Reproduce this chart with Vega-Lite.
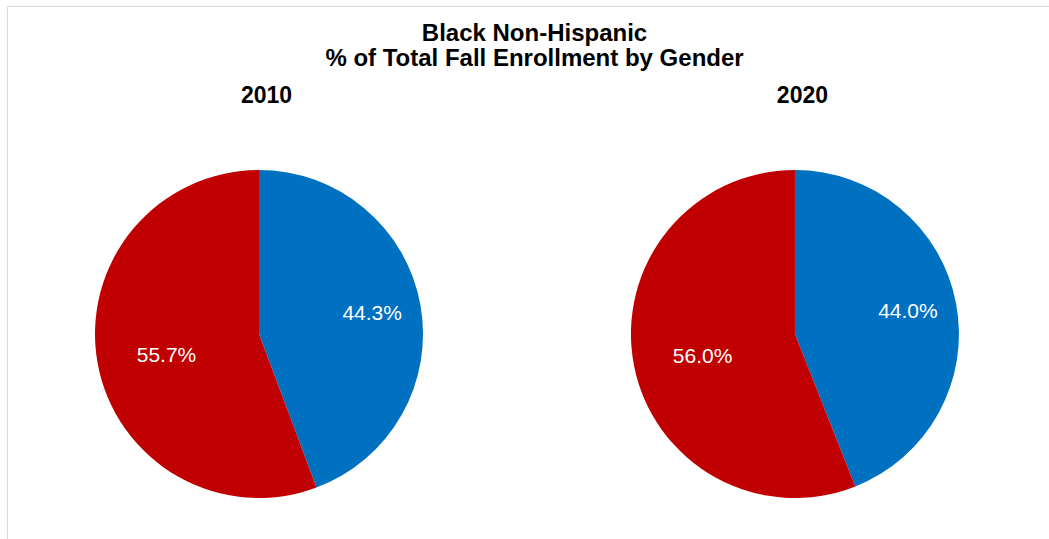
{
  "$schema": "https://vega.github.io/schema/vega-lite/v6.json",
  "width": 1049,
  "height": 539,
  "autosize": {"type": "fit", "contains": "padding"},
  "padding": {"left": 7, "top": 6, "right": -2, "bottom": -123},
  "background": "white",
  "config": {
    "view": {"stroke": "#d9d9d9", "strokeWidth": 1},
    "font": "Liberation Sans"
  },
  "data": {
    "values": [
      {"year": "2010", "gender": "Male", "pct": 0.443},
      {"year": "2010", "gender": "Female", "pct": 0.557},
      {"year": "2020", "gender": "Male", "pct": 0.440},
      {"year": "2020", "gender": "Female", "pct": 0.560}
    ]
  },
  "encoding": {
    "x": {
      "field": "year",
      "type": "nominal",
      "scale": {"type": "point", "padding": 0.474, "align": 0.496},
      "axis": {
        "orient": "top",
        "offset": -96,
        "title": ["Black Non-Hispanic", "% of Total Fall Enrollment by Gender"],
        "titleX": 527,
        "titleY": -62,
        "titleAlign": "center",
        "titleBaseline": "alphabetic",
        "titleAngle": 0,
        "titleFont": "Liberation Sans",
        "titleFontSize": 24,
        "titleFontWeight": "bold",
        "titleLineHeight": 25,
        "titleColor": "black",
        "ticks": false,
        "tickSize": 0,
        "domain": false,
        "grid": false,
        "labelPadding": 0,
        "labelBaseline": "alphabetic",
        "labelOffset": 7,
        "labelAngle": 0,
        "labelFont": "Liberation Sans",
        "labelFontSize": 23,
        "labelFontWeight": "bold",
        "labelColor": "black"
      }
    },
    "theta": {"field": "pct", "type": "quantitative", "stack": true},
    "order": {"field": "gender", "sort": "descending"},
    "color": {
      "field": "gender",
      "type": "nominal",
      "scale": {"domain": ["Male", "Female"], "range": ["#0070C0", "#C00000"]},
      "legend": null
    }
  },
  "layer": [
    {
      "transform": [{"filter": "datum.year == '2010'"}],
      "layer": [
        {"mark": {"type": "arc", "outerRadius": 164}},
        {
          "mark": {"type": "text", "radius": 115, "fontSize": 21, "font": "Liberation Sans", "align": "center", "baseline": "middle", "color": "white"},
          "encoding": {
            "text": {"condition": {"test": "datum.gender == 'Male'", "field": "pct", "type": "quantitative", "format": ".1%"}, "value": ""},
            "color": {"value": "white"}
          }
        },
        {
          "mark": {"type": "text", "radius": 94, "dy": 5, "fontSize": 21, "font": "Liberation Sans", "align": "center", "baseline": "middle", "color": "white"},
          "encoding": {
            "text": {"condition": {"test": "datum.gender == 'Female'", "field": "pct", "type": "quantitative", "format": ".1%"}, "value": ""},
            "color": {"value": "white"}
          }
        }
      ]
    },
    {
      "transform": [{"filter": "datum.year == '2020'"}],
      "layer": [
        {"mark": {"type": "arc", "outerRadius": 164}},
        {
          "mark": {"type": "text", "radius": 115, "fontSize": 21, "font": "Liberation Sans", "align": "center", "baseline": "middle", "color": "white"},
          "encoding": {
            "text": {"condition": {"test": "datum.gender == 'Male'", "field": "pct", "type": "quantitative", "format": ".1%"}, "value": ""},
            "color": {"value": "white"}
          }
        },
        {
          "mark": {"type": "text", "radius": 94, "dy": 5, "fontSize": 21, "font": "Liberation Sans", "align": "center", "baseline": "middle", "color": "white"},
          "encoding": {
            "text": {"condition": {"test": "datum.gender == 'Female'", "field": "pct", "type": "quantitative", "format": ".1%"}, "value": ""},
            "color": {"value": "white"}
          }
        }
      ]
    }
  ]
}
